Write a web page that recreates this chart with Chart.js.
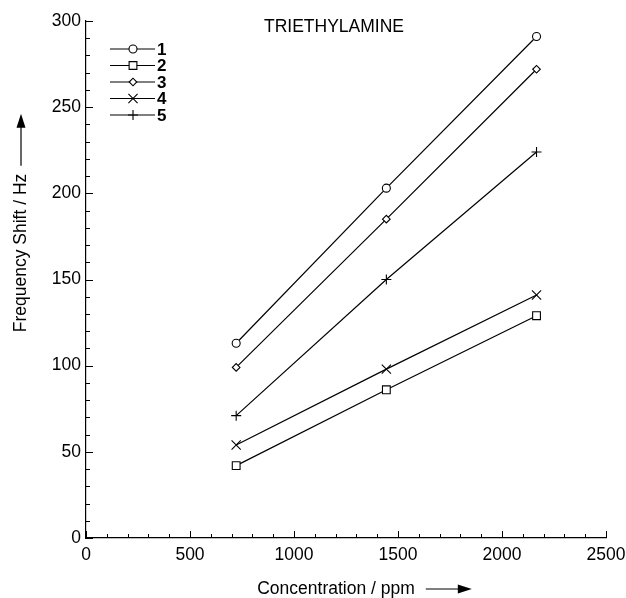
<!DOCTYPE html>
<html>
<head>
<meta charset="utf-8">
<script src="https://cdn.jsdelivr.net/npm/chart.js@4.4.1/dist/chart.umd.min.js"></script>
<style>
  html, body { margin: 0; padding: 0; background: #fff; }
  #wrap { width: 626px; height: 598px; }
</style>
</head>
<body>
<div id="wrap"><canvas id="chart" width="626" height="598"></canvas></div>
<script>
//? DATA
const concentrations = [722, 1444, 2166];
const series1 = [113, 203, 291];
const series2 = [42, 86, 129];
const series3 = [99, 185, 272];
const series4 = [54, 98, 141];
const series5 = [71, 150, 224];
const seriesLabels = ['1', '2', '3', '4', '5'];
const chartTitle = 'TRIETHYLAMINE';
const xTitle = 'Concentration / ppm';
const yTitle = 'Frequency Shift / Hz';

// marker look for each series
const markerStyles = [
    { pointStyle: 'circle', radius: 4 },
    { pointStyle: 'rect', radius: 5.5 },
    { pointStyle: 'rectRot', radius: 3.8 },
    { pointStyle: 'crossRot', radius: 6.5 },
    { pointStyle: 'cross', radius: 5 },
];

const FONT = "'Liberation Sans', Arial, sans-serif";
Chart.defaults.font.family = FONT;
Chart.defaults.color = '#000';

const allSeries = [series1, series2, series3, series4, series5];

const datasets = allSeries.map((vals, i) => ({
    label: seriesLabels[i],
    data: vals.map((v, k) => ({ x: concentrations[k], y: v })),
    borderColor: '#000',
    borderWidth: 1.2,
    backgroundColor: '#fff',
    pointBackgroundColor: '#fff',
    pointBorderColor: '#000',
    pointBorderWidth: 1.1,
    pointStyle: markerStyles[i].pointStyle,
    pointRadius: markerStyles[i].radius,
    tension: 0,
    fill: false,
    clip: false,
}));

//? inward major + minor tick marks (like the original plot)
const tickMarks = {
    id: 'tickMarks',
    afterDraw(chart) {
        const { ctx, scales: { x, y } } = chart;
        ctx.save();
        ctx.strokeStyle = '#000';
        ctx.lineWidth = 1;
        ctx.beginPath();
        for (let v = x.min; v <= x.max; v += 100) {
            const px = Math.round(x.getPixelForValue(v)) + 0.5;
            const len = v % 500 === 0 ? 7 : 4;
            ctx.moveTo(px, y.bottom);
            ctx.lineTo(px, y.bottom - len);
        }
        for (let v = y.min; v <= y.max; v += 10) {
            const py = Math.round(y.getPixelForValue(v)) + 0.5;
            const len = v % 50 === 0 ? 7 : 4;
            ctx.moveTo(x.left, py);
            ctx.lineTo(x.left + len, py);
        }
        ctx.stroke();
        ctx.restore();
    }
};

function arrowHead(ctx, tipX, tipY, dir) {
    // dir: 'right' or 'up'
    ctx.beginPath();
    if (dir === 'right') {
        ctx.moveTo(tipX, tipY);
        ctx.lineTo(tipX - 14, tipY - 4.5);
        ctx.lineTo(tipX - 14, tipY + 4.5);
    } else {
        ctx.moveTo(tipX, tipY);
        ctx.lineTo(tipX - 4.5, tipY + 14);
        ctx.lineTo(tipX + 4.5, tipY + 14);
    }
    ctx.closePath();
    ctx.fill();
}

//? titles, axis titles with arrows, and the line+marker legend
const decorations = {
    id: 'decorations',
    afterDraw(chart) {
        const ctx = chart.ctx;
        ctx.save();
        ctx.fillStyle = '#000';
        ctx.strokeStyle = '#000';

        // title
        ctx.font = '17.5px ' + FONT;
        ctx.textAlign = 'center';
        ctx.textBaseline = 'middle';
        ctx.fillText(chartTitle, 334, 27);

        // x axis title + arrow
        ctx.font = '17.5px ' + FONT;
        const xw = ctx.measureText(xTitle).width;
        const xc = 336, xy = 589;
        ctx.fillText(xTitle, xc, xy);
        const xa = xc + xw / 2 + 11;
        ctx.lineWidth = 1.2;
        ctx.beginPath();
        ctx.moveTo(xa, xy);
        ctx.lineTo(xa + 34, xy);
        ctx.stroke();
        arrowHead(ctx, xa + 46, xy, 'right');

        // y axis title + arrow
        const yw = ctx.measureText(yTitle).width;
        const yx = 21, yc = 253;
        ctx.save();
        ctx.translate(yx, yc);
        ctx.rotate(-Math.PI / 2);
        ctx.fillText(yTitle, 0, 0);
        ctx.restore();
        const ya = yc - yw / 2 - 8;
        ctx.beginPath();
        ctx.moveTo(yx, ya);
        ctx.lineTo(yx, ya - 40);
        ctx.stroke();
        arrowHead(ctx, yx, ya - 52, 'up');

        // legend
        const rowY = [49, 65.5, 82, 98.5, 115];
        ctx.font = 'bold 17px ' + FONT;
        ctx.textAlign = 'left';
        chart.data.datasets.forEach((ds, i) => {
            const yy = rowY[i];
            ctx.lineWidth = 1.2;
            ctx.beginPath();
            ctx.moveTo(110, yy);
            ctx.lineTo(155, yy);
            ctx.stroke();
            ctx.fillStyle = '#fff';
            ctx.lineWidth = 1.1;
            Chart.helpers.drawPoint(ctx, {
                pointStyle: ds.pointStyle,
                radius: ds.pointRadius,
                rotation: 0,
                borderWidth: 1.1
            }, 133, yy);
            ctx.fillStyle = '#000';
            ctx.fillText(ds.label, 157, yy + 1);
        });
        ctx.restore();
    }
};

new Chart(document.getElementById('chart'), {
    type: 'line',
    data: { datasets },
    options: {
        responsive: false,
        devicePixelRatio: 1,
        animation: false,
        layout: { padding: { top: 21, right: 20, left: 0, bottom: 0 } },
        plugins: {
            legend: { display: false },
            tooltip: { enabled: false },
            title: { display: false }
        },
        scales: {
            x: {
                type: 'linear',
                min: 0,
                max: 2500,
                ticks: { stepSize: 500, font: { size: 17.5 }, color: '#000', padding: 7, maxRotation: 0,
                         callback: (v) => String(v) },
                grid: { display: false, drawTicks: false },
                border: { display: true, color: '#000', width: 1.2 },
                afterFit: (s) => { s.height = 60; s.paddingLeft = 0; s.paddingRight = 0; }
            },
            y: {
                type: 'linear',
                min: 0,
                max: 300,
                ticks: { stepSize: 50, font: { size: 17.5 }, color: '#000', padding: 5,
                         callback: (v) => String(v) },
                grid: { display: false, drawTicks: false },
                border: { display: true, color: '#000', width: 1.2 },
                afterFit: (s) => { s.width = 86; s.paddingTop = 0; s.paddingBottom = 0; }
            }
        }
    },
    plugins: [tickMarks, decorations]
});
</script>
</body>
</html>
